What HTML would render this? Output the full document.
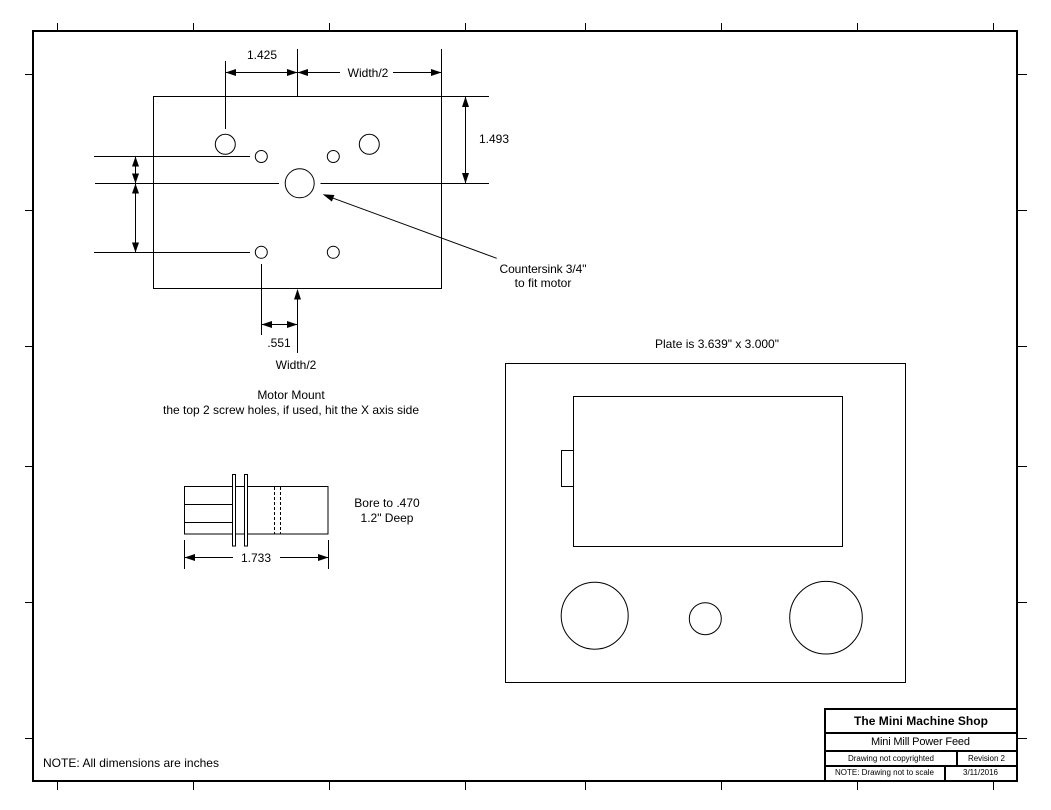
<!DOCTYPE html>
<html>
<head>
<meta charset="utf-8">
<style>
  html, body { margin: 0; padding: 0; background: #fff; }
  svg { display: block; }
  text { font-family: "Liberation Sans", Arial, sans-serif; fill: #000; }
</style>
</head>
<body>
<svg width="1051" height="810" viewBox="0 0 1051 810" xmlns="http://www.w3.org/2000/svg">
  <rect x="0" y="0" width="1051" height="810" fill="#fff"/>

  <!-- Border -->
  <rect x="33" y="31" width="984" height="750" fill="none" stroke="#000" stroke-width="2"/>

  <!-- Ticks -->
  <g stroke="#000" stroke-width="1" shape-rendering="crispEdges">
    <!-- top -->
    <line x1="57.5" y1="23" x2="57.5" y2="31"/>
    <line x1="193.5" y1="23" x2="193.5" y2="31"/>
    <line x1="329.5" y1="23" x2="329.5" y2="31"/>
    <line x1="465.5" y1="23" x2="465.5" y2="31"/>
    <line x1="585.5" y1="23" x2="585.5" y2="31"/>
    <line x1="721.5" y1="23" x2="721.5" y2="31"/>
    <line x1="857.5" y1="23" x2="857.5" y2="31"/>
    <line x1="993.5" y1="23" x2="993.5" y2="31"/>
    <!-- bottom -->
    <line x1="57.5" y1="781" x2="57.5" y2="790"/>
    <line x1="193.5" y1="781" x2="193.5" y2="790"/>
    <line x1="329.5" y1="781" x2="329.5" y2="790"/>
    <line x1="465.5" y1="781" x2="465.5" y2="790"/>
    <line x1="585.5" y1="781" x2="585.5" y2="790"/>
    <line x1="721.5" y1="781" x2="721.5" y2="790"/>
    <line x1="857.5" y1="781" x2="857.5" y2="790"/>
    <line x1="993.5" y1="781" x2="993.5" y2="790"/>
    <!-- left -->
    <line x1="25" y1="74.5" x2="33" y2="74.5"/>
    <line x1="25" y1="210.5" x2="33" y2="210.5"/>
    <line x1="25" y1="346.5" x2="33" y2="346.5"/>
    <line x1="25" y1="466.5" x2="33" y2="466.5"/>
    <line x1="25" y1="602.5" x2="33" y2="602.5"/>
    <line x1="25" y1="738.5" x2="33" y2="738.5"/>
    <!-- right -->
    <line x1="1017" y1="74.5" x2="1027" y2="74.5"/>
    <line x1="1017" y1="210.5" x2="1027" y2="210.5"/>
    <line x1="1017" y1="346.5" x2="1027" y2="346.5"/>
    <line x1="1017" y1="466.5" x2="1027" y2="466.5"/>
    <line x1="1017" y1="602.5" x2="1027" y2="602.5"/>
    <line x1="1017" y1="738.5" x2="1027" y2="738.5"/>
  </g>

  <!-- ================= Motor mount ================= -->
  <g stroke="#000" stroke-width="1" fill="none" shape-rendering="crispEdges">
    <rect x="153.5" y="96.5" width="288" height="192"/>
    <!-- extension lines top -->
    <line x1="225.5" y1="61" x2="225.5" y2="129"/>
    <line x1="297.5" y1="49" x2="297.5" y2="96"/>
    <line x1="441.5" y1="49" x2="441.5" y2="96"/>
    <!-- top dims -->
    <line x1="225.5" y1="72.5" x2="297.5" y2="72.5"/>
    <line x1="297.5" y1="72.5" x2="340" y2="72.5"/>
    <line x1="393" y1="72.5" x2="441.5" y2="72.5"/>
    <!-- right side ext lines -->
    <line x1="441.5" y1="96.5" x2="489" y2="96.5"/>
    <line x1="320.5" y1="183.5" x2="489" y2="183.5"/>
    <line x1="465.5" y1="96.5" x2="465.5" y2="183.5"/>
    <!-- left lines -->
    <line x1="94" y1="156.5" x2="250" y2="156.5"/>
    <line x1="95" y1="183.5" x2="279" y2="183.5"/>
    <line x1="94" y1="252.5" x2="250" y2="252.5"/>
    <line x1="135.5" y1="156.5" x2="135.5" y2="252.5"/>
    <!-- bottom -->
    <line x1="261.5" y1="264" x2="261.5" y2="335"/>
    <line x1="297.5" y1="290" x2="297.5" y2="353"/>
    <line x1="261.5" y1="324.5" x2="297.5" y2="324.5"/>
  </g>
  <g stroke="#000" stroke-width="1" fill="none">
    <circle cx="225.3" cy="144.3" r="10"/>
    <circle cx="369.3" cy="144.3" r="10"/>
    <circle cx="261.3" cy="156.5" r="6"/>
    <circle cx="333.3" cy="156.5" r="6"/>
    <circle cx="261.3" cy="252.3" r="6"/>
    <circle cx="333.3" cy="252.3" r="6"/>
    <circle cx="299.7" cy="183.3" r="14.5"/>
    <!-- leader -->
    <line x1="496.7" y1="258.3" x2="324" y2="194.8"/>
  </g>
  <!-- arrowheads motor mount -->
  <g fill="#000" stroke="none">
    <!-- 1.425 -->
    <polygon points="225.5,72.5 236,69 236,76"/>
    <polygon points="297.5,72.5 287,69 287,76"/>
    <!-- Width/2 top -->
    <polygon points="297.5,72.5 308,69 308,76"/>
    <polygon points="441.5,72.5 431,69 431,76"/>
    <!-- 1.493 -->
    <polygon points="465.5,96.5 462,107 469,107"/>
    <polygon points="465.5,183.5 462,173 469,173"/>
    <!-- left dims -->
    <polygon points="135.5,156.5 132,166.5 139,166.5"/>
    <polygon points="135.5,183.5 132,173.5 139,173.5"/>
    <polygon points="135.5,183.5 132,193.5 139,193.5"/>
    <polygon points="135.5,252.5 132,242.5 139,242.5"/>
    <!-- .551 -->
    <polygon points="261.5,324.5 272,321 272,328"/>
    <polygon points="297.5,324.5 287,321 287,328"/>
    <!-- Width/2 bottom up arrow -->
    <polygon points="297.5,289 294,299.5 301,299.5"/>
    <!-- leader arrow -->
    <polygon points="322.7,194.3 334.4,195 331.9,201.6"/>
  </g>
  <g font-size="12">
    <text x="262" y="59" text-anchor="middle">1.425</text>
    <text x="368" y="77" text-anchor="middle">Width/2</text>
    <text x="494" y="143" text-anchor="middle">1.493</text>
    <text x="279" y="347" text-anchor="middle">.551</text>
    <text x="296" y="369" text-anchor="middle">Width/2</text>
    <text x="543" y="273" text-anchor="middle" textLength="87">Countersink 3/4"</text>
    <text x="543" y="287" text-anchor="middle">to fit motor</text>
    <text x="291" y="399" text-anchor="middle">Motor Mount</text>
    <text x="291" y="414" text-anchor="middle" textLength="256">the top 2 screw holes, if used, hit the X axis side</text>
  </g>

  <!-- ================= Coupler ================= -->
  <g stroke="#000" stroke-width="1" fill="none" shape-rendering="crispEdges">
    <rect x="184.5" y="486.5" width="143.5" height="47.5"/>
    <line x1="184.5" y1="504.5" x2="232" y2="504.5"/>
    <line x1="184.5" y1="522.5" x2="232" y2="522.5"/>
    <rect x="232.5" y="474.5" width="3" height="71.5" fill="#fff"/>
    <rect x="244.5" y="474.5" width="3" height="71.5" fill="#fff"/>
    <line x1="274.5" y1="487" x2="274.5" y2="534" stroke-dasharray="3,2"/>
    <line x1="280.5" y1="487" x2="280.5" y2="534" stroke-dasharray="3,2"/>
    <!-- dim -->
    <line x1="184.5" y1="540" x2="184.5" y2="569"/>
    <line x1="328.5" y1="540" x2="328.5" y2="569"/>
    <line x1="184.5" y1="557.5" x2="233" y2="557.5"/>
    <line x1="280" y1="557.5" x2="328.5" y2="557.5"/>
  </g>
  <g fill="#000">
    <polygon points="184.5,557.5 195,554 195,561"/>
    <polygon points="328.5,557.5 318,554 318,561"/>
  </g>
  <g font-size="12">
    <text x="256" y="562" text-anchor="middle">1.733</text>
    <text x="387" y="507" text-anchor="middle">Bore to .470</text>
    <text x="387" y="522" text-anchor="middle">1.2" Deep</text>
  </g>

  <!-- ================= Plate ================= -->
  <g stroke="#000" stroke-width="1" fill="none" shape-rendering="crispEdges">
    <rect x="505.5" y="363.5" width="400" height="319"/>
    <rect x="573.5" y="396.5" width="269" height="150"/>
    <rect x="561.5" y="450.5" width="12" height="36"/>
  </g>
  <g stroke="#000" stroke-width="1" fill="none">
    <circle cx="594.7" cy="615.7" r="33.5"/>
    <circle cx="705.3" cy="618.7" r="16"/>
    <circle cx="826" cy="617.7" r="36.3"/>
  </g>
  <text x="717" y="348" font-size="12" text-anchor="middle" textLength="124">Plate is 3.639" x 3.000"</text>

  <!-- Note -->
  <text x="43" y="767" font-size="12" textLength="176">NOTE: All dimensions are inches</text>

  <!-- ================= Title block ================= -->
  <g stroke="#000" stroke-width="2" fill="none">
    <rect x="825" y="709" width="192" height="72" fill="#fff"/>
    <line x1="825" y1="733" x2="1017" y2="733"/>
    <line x1="825" y1="751" x2="1017" y2="751"/>
    <line x1="825" y1="766" x2="1017" y2="766"/>
    <line x1="957" y1="751" x2="957" y2="766"/>
    <line x1="945" y1="766" x2="945" y2="781"/>
  </g>
  <text x="921" y="725" font-size="12" font-weight="bold" text-anchor="middle" textLength="134">The Mini Machine Shop</text>
  <text x="920.5" y="745" font-size="11" text-anchor="middle" textLength="99">Mini Mill Power Feed</text>
  <text x="891" y="761" font-size="8" text-anchor="middle" textLength="86">Drawing not copyrighted</text>
  <text x="986.5" y="761" font-size="8" text-anchor="middle" textLength="37">Revision  2</text>
  <text x="884.5" y="775" font-size="8" text-anchor="middle" textLength="99">NOTE: Drawing not to scale</text>
  <text x="980.5" y="775" font-size="8" text-anchor="middle" textLength="35">3/11/2016</text>
</svg>
</body>
</html>
